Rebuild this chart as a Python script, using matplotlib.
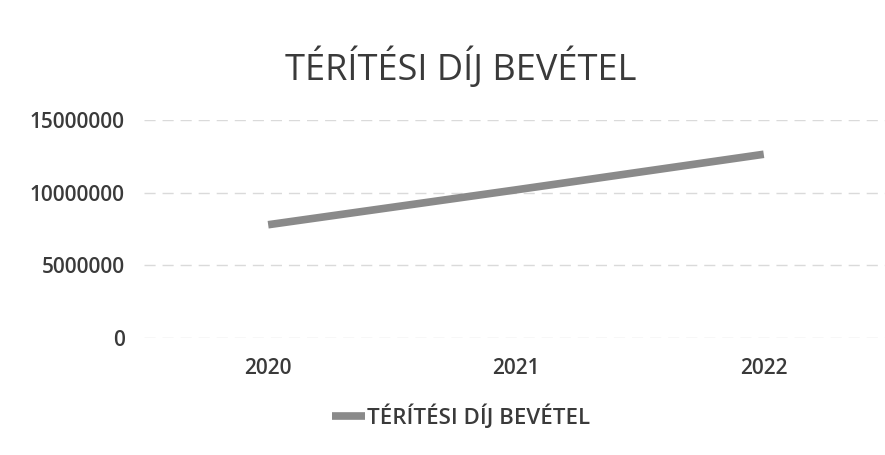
import matplotlib
matplotlib.use("Agg")
import matplotlib.pyplot as plt

plt.rcParams['font.family'] = ['Open Sans', 'DejaVu Sans']

categories = ["2020", "2021", "2022"]
values = [7800000, 10200000, 12650000]
series_name = "TÉRÍTÉSI DÍJ BEVÉTEL"
yticks = [0, 5000000, 10000000, 15000000]

txt = "#3a3a3a"
fig = plt.figure(figsize=(8.85, 4.55), dpi=100)
ax = fig.add_axes([0.163, 0.257, 0.84, 0.479])
x = list(range(len(categories)))
ax.plot(x, values, color="#8a8a8a", lw=5.5, solid_capstyle="butt", label=series_name)
ax.set_xlim(-0.5, 2.5)
ax.set_ylim(0, 15000000)
ax.set_yticks(yticks)
ax.set_yticklabels([str(v) for v in yticks], fontsize=15, color=txt, fontweight='semibold')
ax.set_xticks(x)
ax.set_xticklabels(categories, fontsize=15, color=txt, fontweight='semibold')
ax.tick_params(axis='y', length=0, pad=14)
ax.tick_params(axis='x', length=0, pad=14)
ax.grid(axis='y', color="#dadada", lw=1, ls=(0, (8, 5)))
ax.set_axisbelow(True)
for s in ax.spines.values():
    s.set_visible(False)

fig.text(0.521, 0.85, series_name, ha='center', va='center', fontsize=26, color=txt)
leg = fig.legend(loc='center', bbox_to_anchor=(0.521, 0.084), frameon=False,
                 prop={'size': 16, 'weight': 'semibold'},
                 handlelength=1.5, handletextpad=0.1, labelcolor=txt)

fig.savefig("out.png", dpi=100)
